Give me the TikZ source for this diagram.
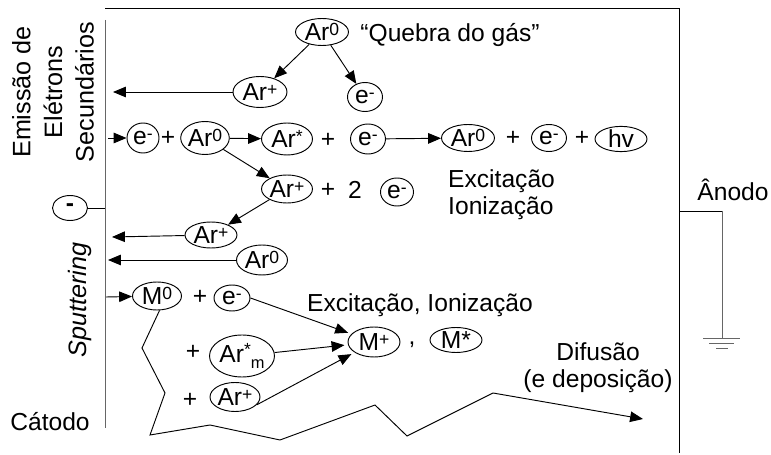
\documentclass[tikz,border=0pt]{standalone}
\usepackage{fontspec}
\setmainfont{Liberation Sans}
\usetikzlibrary{shapes.geometric,arrows.meta}
\newcommand{\up}[1]{\raisebox{4.5pt}{\fontsize{15}{15}\selectfont #1}}
\begin{document}
\begin{tikzpicture}[x=0.03cm,y=-0.03cm,
  every node/.style={font=\fontsize{21}{23}\selectfont},
  el/.style 2 args={ellipse,draw,line width=0.8pt,inner sep=0pt,minimum width=#1*0.03cm,minimum height=#2*0.03cm},
  txt/.style={inner sep=0pt},
  ln/.style={line width=0.8pt},
  arr/.style={line width=0.8pt,-{Triangle[length=11pt,width=9pt]}},
  gr/.style={line width=0.8pt,draw=gray!80!black}]
\useasboundingbox (0,0) rectangle (771,455);
% frame
\coordinate (tl) at (105,8);
\coordinate (tr) at (679,8);
\coordinate (br) at (679,453);
\draw[ln] (tl) -- (tr) -- (br);
\coordinate (ct) at (105,20);
\coordinate (cb) at (105,428);
\draw[gr] (ct) -- (cb);
% minus electrode
\node[el={35}{25}] (minus) at (70,208) {\textbf{-}};
\coordinate (cm) at (105,208);
\draw[ln] (minus) -- (cm);
% anode and ground
\coordinate (a1) at (679,211);
\coordinate (a2) at (722,211);
\coordinate (a3) at (722,338);
\draw[ln] (a1) -- (a2);
\draw[gr] (a2) -- (a3);
\coordinate (g1a) at (703,338); \coordinate (g1b) at (740,338);
\coordinate (g2a) at (709,343); \coordinate (g2b) at (734,343);
\coordinate (g3a) at (716,348); \coordinate (g3b) at (728,348);
\draw[gr] (g1a) -- (g1b) (g2a) -- (g2b) (g3a) -- (g3b);
\node[txt] (anodo) at (733,190) {Ânodo};
% left labels
\node[txt,rotate=90,align=center,font=\fontsize{21.5}{27}\selectfont] (emis) at (53,92) {Emissão de\\Elétrons\\Secundários};
\node[txt,rotate=90,font=\fontsize{21.5}{23}\selectfont] (sput) at (80,300) {\itshape Sputtering};
\node[txt] (catodo) at (50,422) {Cátodo};
% top: gas breakdown
\node[el={53}{27}] (ar0a) at (322,32) {Ar\up{0}};
\node[txt] (quebra) at (450,35) {“Quebra do gás”};
\node[el={54}{31}] (arp1) at (260,92) {Ar\up{+}};
\node[el={35}{29}] (e1) at (365,97) {e\up{-}};
\draw[arr] (ar0a) -- (arp1);
\draw[arr] (ar0a) -- (e1);
\coordinate (c1) at (113,92);
\draw[arr] (arp1) -- (c1);
% row 3
\coordinate (c3) at (108,138);
\node[el={32}{30}] (e2) at (143,138) {e\up{-}};
\draw[arr] (c3) -- (e2);
\node[txt] (p1) at (168,138) {+};
\node[el={48}{33}] (ar0b) at (205,138) {Ar\up{0}};
\node[el={51}{32}] (ars) at (287,139) {Ar\up{*}};
\draw[arr] (ar0b) -- (ars);
\node[txt] (p2) at (328,140) {+};
\node[el={35}{30}] (e3) at (368,139) {e\up{-}};
\node[el={53}{27}] (ar0c) at (468,138) {Ar\up{0}};
\draw[arr] (e3) -- (ar0c);
\node[txt] (p3) at (513,138) {+};
\node[el={35}{27}] (e4) at (549,138) {e\up{-}};
\node[txt] (p4) at (582,138) {+};
\node[el={52}{23}] (hv) at (621,139) {hv};
\node[txt,align=left,anchor=west] (exc1) at (448,195) {Excitação\\Ionização};
% row 4
\node[el={51}{28}] (arp2) at (287,189) {Ar\up{+}};
\draw[arr] (ar0b) -- (arp2);
\node[txt] (p5) at (328,190) {+};
\node[txt] (two) at (355,190) {2};
\node[el={33}{28}] (e5) at (397,192) {e\up{-}};
% row 5/6
\node[el={52}{26}] (arp3) at (211,235) {Ar\up{+}};
\draw[arr] (arp2) -- (arp3);
\coordinate (c5) at (112,237);
\draw[arr] (arp3) -- (c5);
\node[el={51}{30}] (ar0d) at (262,260) {Ar\up{0}};
\coordinate (c6) at (108,260);
\draw[arr] (ar0d) -- (c6);
% metal sputtering
\coordinate (c7) at (106,297);
\node[el={49}{28}] (m0) at (157,296) {M\up{0}};
\draw[arr] (c7) -- (m0);
\node[txt] (p6) at (200,297) {+};
\node[el={36}{26}] (e6) at (232,298) {e\up{-}};
\node[txt] (exc2) at (420,305) {Excitação, Ionização};
\node[el={52}{30}] (mp) at (374,342) {M\up{+}};
\node[txt] (comma) at (412,345) {,};
\node[el={52}{25}] (ms) at (456,340) {M*};
\node[txt] (p7) at (193,352) {+};
\node[el={65}{42}] (arsm) at (242,356) {Ar\raisebox{6pt}{\fontsize{15}{15}\selectfont *}\raisebox{-4.5pt}{\fontsize{14}{14}\selectfont m}};
\node[txt] (p8) at (190,400) {+};
\node[el={50}{29}] (arp4) at (235,397) {Ar\up{+}};
\draw[arr,shorten >=3pt] (e6.east) -- (mp);
\draw[arr,shorten >=3pt] (arsm) -- (mp);
\draw[arr,shorten >=3pt] (arp4.-20) -- (mp);
% diffusion path
\coordinate (z1) at (142,348);
\coordinate (z2) at (165,393);
\coordinate (z3) at (150,435);
\coordinate (z4) at (210,425);
\coordinate (z5) at (280,440);
\coordinate (z6) at (375,405);
\coordinate (z7) at (407,436);
\coordinate (z8) at (493,393);
\coordinate (z9) at (643,419);
\draw[arr] (m0.-80) -- (z1) -- (z2) -- (z3) -- (z4) -- (z5) -- (z6) -- (z7) -- (z8) -- (z9);
\node[txt,align=center] (dif) at (598,368) {Difusão\\(e deposição)};
\end{tikzpicture}
\end{document}
